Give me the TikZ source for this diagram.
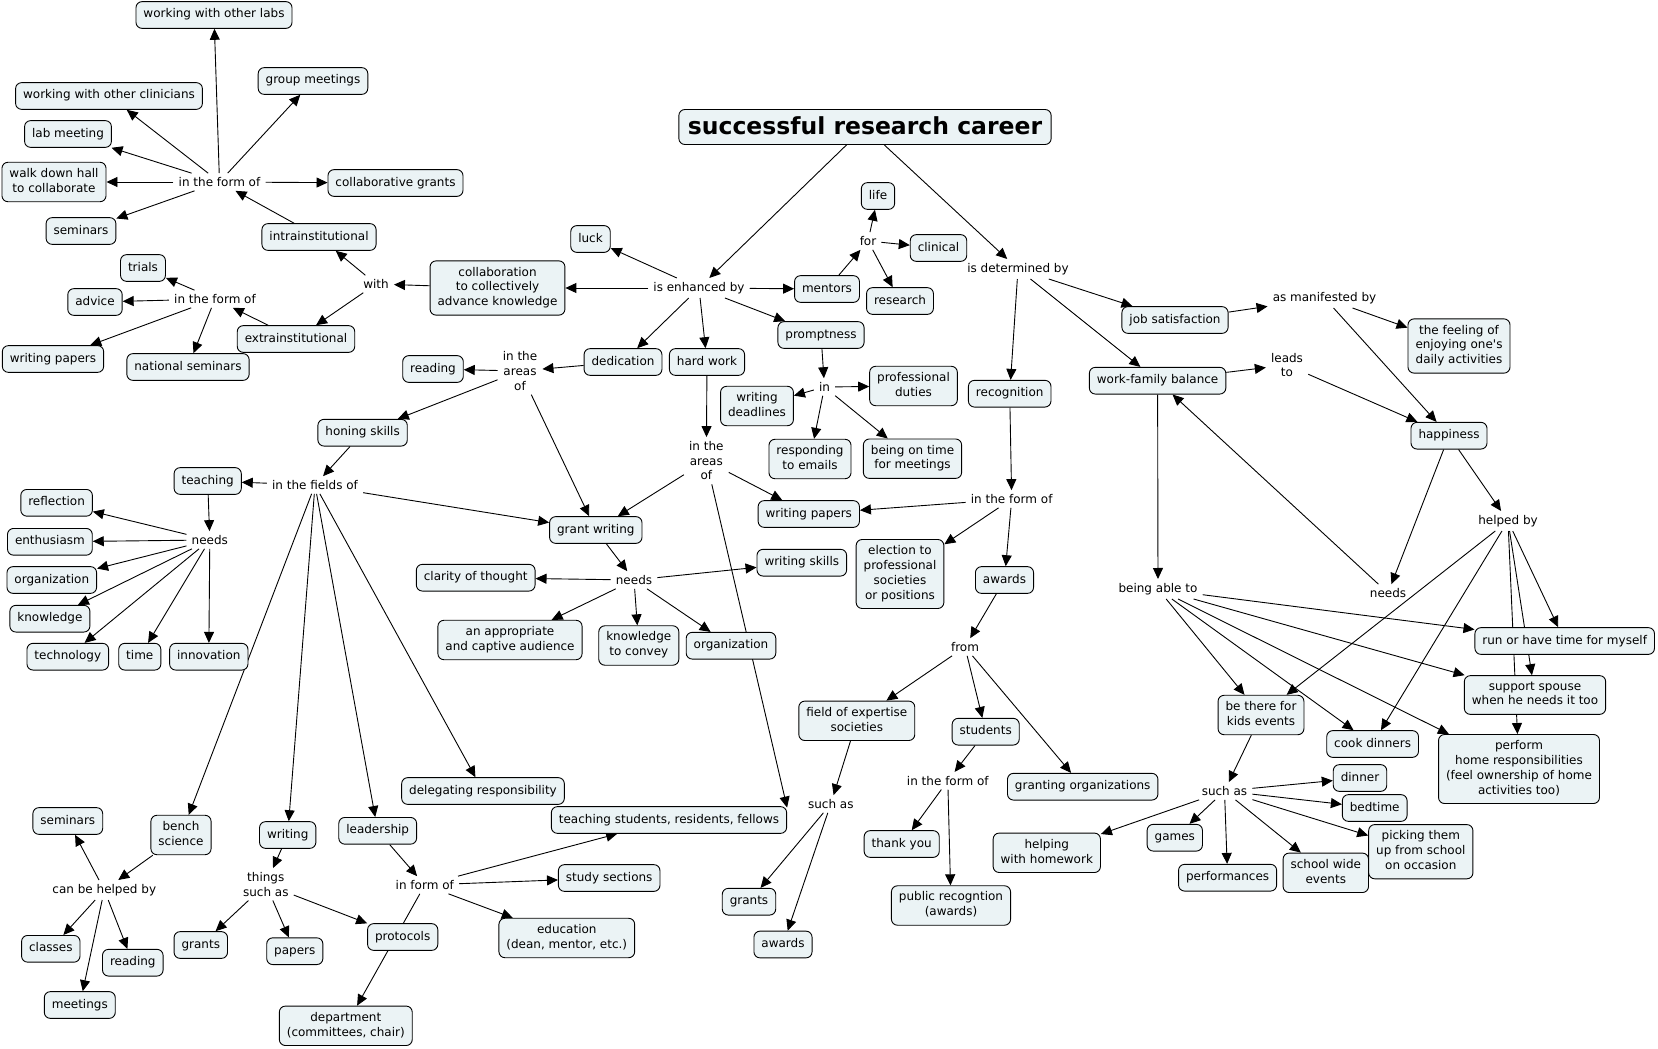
\documentclass[tikz,border=0pt]{standalone}
\usepackage{fontspec}
\setmainfont{DejaVu Sans}
\usetikzlibrary{arrows.meta}
\pgfdeclarelayer{background}
\pgfsetlayers{background,main}
\definecolor{cfill}{RGB}{235,243,245}
\newcommand\mapfont{\fontsize{12}{14.8}\selectfont}
\begin{document}
\begin{tikzpicture}[x=1pt,y=-1pt,
  concept/.style={draw=black, line width=0.9pt, fill=cfill, rounded corners=6pt,
    align=center, inner xsep=7.5pt, inner ysep=6pt, minimum height=26.7pt, font=\mapfont,
    execute at begin node={\rule{0pt}{9.5pt}},
    execute at end node={\rule[-3.5pt]{0pt}{3.5pt}}},
  link/.style={align=center, inner xsep=5pt, inner ysep=4pt, font=\mapfont},
  arr/.style={line width=0.9pt, -{Triangle[length=11pt,width=10pt]}}
]
\useasboundingbox (0,0) rectangle (1658,1049);

% title
\node[concept, font=\fontsize{23.5}{28}\selectfont\bfseries, minimum height=35pt, inner xsep=9pt] (top) at (865,127) {successful research career};

% top-left collaboration cluster
\node[concept] (wol) at (214,15) {working with other labs};
\node[concept] (grp) at (313,81) {group meetings};
\node[concept] (woc) at (109,96) {working with other clinicians};
\node[concept] (labm) at (68,134) {lab meeting};
\node[concept] (walk) at (54,182) {walk down hall\\to collaborate};
\node[concept] (cgr) at (395.5,183) {collaborative grants};
\node[concept] (semA) at (81,231) {seminars};
\node[concept] (intra) at (319,237) {intrainstitutional};
\node[concept] (trials) at (143,268) {trials};
\node[concept] (advice) at (95,302) {advice};
\node[concept] (collab) at (497.5,288) {collaboration\\to collectively\\advance knowledge};
\node[concept] (extra) at (296,339) {extrainstitutional};
\node[concept] (wpA) at (53,359) {writing papers};
\node[concept] (nsem) at (188,367) {national seminars};
\node[concept] (readA) at (433,369) {reading};

\node[link] (lFormA) at (219.5,182) {in the form of};
\node[link] (lFormB) at (215,299) {in the form of};
\node[link] (lWith) at (376,284) {with};

% centre top
\node[concept] (luck) at (590.5,239) {luck};
\node[concept] (life) at (878,196) {life};
\node[concept] (clin) at (938.5,248) {clinical};
\node[concept] (ment) at (827,289) {mentors};
\node[concept] (res) at (900,301) {research};
\node[concept] (prompt) at (821,335) {promptness};
\node[concept] (ded) at (623,362) {dedication};
\node[concept] (hard) at (707,362) {hard work};
\node[concept] (prof) at (913.5,386) {professional\\duties};
\node[concept] (wdl) at (757,406) {writing\\deadlines};
\node[concept] (recog) at (1009.7,393.7) {recognition};
\node[concept] (resp) at (810,459) {responding\\to emails};
\node[concept] (ontime) at (912.5,458.7) {being on time\\for meetings};

\node[link] (lEnh) at (699,288) {is enhanced by};
\node[link] (lFor) at (868,241) {for};
\node[link] (lDet) at (1018,269) {is determined by};
\node[link] (lIn) at (824.5,387) {in};
\node[link] (lAreasA) at (520,371) {in the\\areas\\of};
\node[link] (lAreasB) at (706.3,460.7) {in the\\areas\\of};

% right cluster
\node[concept] (jobs) at (1175,320) {job satisfaction};
\node[concept] (feel) at (1459,346) {the feeling of\\enjoying one\textquotesingle s\\daily activities};
\node[concept] (wfb) at (1157.6,380.7) {work-family balance};
\node[concept] (happy) at (1449,435.7) {happiness};
\node[concept] (run) at (1564.7,641) {run or have time for myself};
\node[concept] (supp) at (1535,695) {support spouse\\when he needs it too};
\node[concept] (kids) at (1261,715) {be there for\\kids events};
\node[concept] (cook) at (1372.6,744) {cook dinners};
\node[concept] (perf) at (1519,769) {perform\\home responsibilities\\(feel ownership of home\\activities too)};
\node[concept] (dinner) at (1360,778) {dinner};
\node[concept] (bed) at (1374.7,808) {bedtime};
\node[concept] (games) at (1174.8,837.7) {games};
\node[concept] (pick) at (1420.8,851.7) {picking them\\up from school\\on occasion};
\node[concept] (school) at (1325.8,872.8) {school wide\\events};
\node[concept] (perfs) at (1227.6,877.7) {performances};
\node[concept] (homew) at (1046.8,852.8) {helping\\with homework};

\node[link] (lManif) at (1324.5,298) {as manifested by};
\node[link] (lLeads) at (1287,365) {leads\\to};
\node[link] (lHelp) at (1508,521) {helped by};
\node[link] (lAble) at (1158,589) {being able to};
\node[link] (lNeedsR) at (1388,593) {needs};
\node[link] (lSuchR) at (1224.5,791) {such as};

% recognition cluster
\node[concept] (wpB) at (808.8,514) {writing papers};
\node[concept] (elect) at (900,574) {election to\\professional\\societies\\or positions};
\node[concept] (wsk) at (801.8,562.7) {writing skills};
\node[concept] (awardsA) at (1004.5,580) {awards};
\node[concept] (orgB) at (731,645.7) {organization};
\node[concept] (field) at (856.8,720.8) {field of expertise\\societies};
\node[concept] (stud) at (985.7,731.7) {students};
\node[concept] (grant) at (1082.7,786.7) {granting organizations};
\node[concept] (teach) at (669,820) {teaching students, residents, fellows};
\node[concept] (thank) at (901.7,844) {thank you};
\node[concept] (grantsB) at (749,901.7) {grants};
\node[concept] (pubrec) at (951,905.5) {public recogntion\\(awards)};
\node[concept] (awardsB) at (783,944.5) {awards};
\node[concept] (study) at (609.2,878) {study sections};
\node[concept] (edu) at (566.8,938) {education\\(dean, mentor, etc.)};

\node[link] (lFormR) at (1011.7,499) {in the form of};
\node[link] (lFrom) at (965,647) {from};
\node[link] (lFormS) at (947.8,780.7) {in the form of};
\node[link] (lSuchM) at (830.8,804) {such as};

% left-middle cluster
\node[concept] (honing) at (362.6,432.7) {honing skills};
\node[concept] (teaching) at (207.7,481) {teaching};
\node[concept] (refl) at (56.6,502.8) {reflection};
\node[concept] (enth) at (49.9,541.8) {enthusiasm};
\node[concept] (orgA) at (51.8,580) {organization};
\node[concept] (know) at (49.9,618.7) {knowledge};
\node[concept] (tech) at (67.8,656.7) {technology};
\node[concept] (time) at (139.8,656.7) {time};
\node[concept] (innov) at (208.8,656.7) {innovation};
\node[concept] (gw) at (595.8,530) {grant writing};
\node[concept] (clar) at (475.7,577.7) {clarity of thought};
\node[concept] (appr) at (510,640) {an appropriate\\and captive audience};
\node[concept] (kconv) at (638.8,645.5) {knowledge\\to convey};
\node[concept] (deleg) at (483,791) {delegating responsibility};

\node[link] (lFields) at (315,485) {in the fields of};
\node[link] (lNeedsL) at (209.8,540) {needs};
\node[link] (lNeedsM) at (634,580) {needs};

% bottom-left cluster
\node[concept] (semB) at (67.8,821) {seminars};
\node[concept] (bench) at (181,835) {bench\\science};
\node[concept] (writing) at (287.7,835) {writing};
\node[concept] (lead) at (377.7,830.8) {leadership};
\node[concept] (classes) at (50.8,948.8) {classes};
\node[concept] (readB) at (132.8,962.7) {reading};
\node[concept] (meet) at (79.8,1005) {meetings};
\node[concept] (grantsA) at (200.8,945) {grants};
\node[concept] (papers) at (294.8,951.2) {papers};
\node[concept] (proto) at (402.7,937) {protocols};
\node[concept] (dept) at (345.8,1025.8) {department\\(committees, chair)};

\node[link] (lCbh) at (104.3,890) {can be helped by};
\node[link] (lThings) at (265.8,884.3) {things\\such as};
\node[link] (lInform) at (424.8,885) {in form of};

\begin{pgfonlayer}{background}
\fill[white] (0,0) rectangle (1658,1049);
\foreach \a/\b in {top/lEnh, top/lDet,
  lEnh/luck, lEnh/collab, lEnh/ment, lEnh/prompt, lEnh/ded, lEnh/hard,
  collab/lWith, lWith/intra, lWith/extra, intra/lFormA,
  lFormA/wol, lFormA/grp, lFormA/woc, lFormA/labm, lFormA/walk, lFormA/semA, lFormA/cgr,
  extra/lFormB, lFormB/trials, lFormB/advice, lFormB/wpA, lFormB/nsem,
  ment/lFor, lFor/life, lFor/clin, lFor/res,
  prompt/lIn, lIn/wdl, lIn/prof, lIn/resp, lIn/ontime,
  ded/lAreasA, lAreasA/readA, lAreasA/honing, lAreasA/gw,
  hard/lAreasB, lAreasB/gw, lAreasB/wpB,
  honing/lFields, lFields/teaching, lFields/gw, lFields/bench, lFields/writing, lFields/lead, lFields/deleg,
  teaching/lNeedsL, lNeedsL/refl, lNeedsL/enth, lNeedsL/orgA, lNeedsL/know, lNeedsL/tech, lNeedsL/time, lNeedsL/innov,
  gw/lNeedsM, lNeedsM/clar, lNeedsM/wsk, lNeedsM/appr, lNeedsM/kconv, lNeedsM/orgB,
  bench/lCbh, lCbh/semB, lCbh/classes, lCbh/readB, lCbh/meet,
  writing/lThings, lThings/grantsA, lThings/papers, lThings/proto,
  lead/lInform, lInform/teach, lInform/study, lInform/edu, lInform/dept,
  recog/lFormR, lFormR/wpB, lFormR/elect, lFormR/awardsA,
  awardsA/lFrom, lFrom/field, lFrom/stud, lFrom/grant,
  field/lSuchM, lSuchM/grantsB, lSuchM/awardsB,
  stud/lFormS, lFormS/thank, lFormS/pubrec,
  lDet/recog, lDet/jobs, lDet/wfb,
  jobs/lManif, lManif/feel, lManif/happy,
  wfb/lLeads, lLeads/happy,
  happy/lNeedsR, happy/lHelp, lNeedsR/wfb,
  wfb/lAble, lAble/kids, lAble/cook, lAble/perf, lAble/supp, lAble/run,
  lHelp/kids, lHelp/cook, lHelp/run, lHelp/supp, lHelp/perf,
  kids/lSuchR, lSuchR/dinner, lSuchR/bed, lSuchR/pick, lSuchR/school, lSuchR/perfs, lSuchR/games, lSuchR/homew}
  \draw[arr] (\a) -- (\b);
\draw[arr] (lAreasB) -- (teach.6.7);
\end{pgfonlayer}
\end{tikzpicture}
\end{document}
